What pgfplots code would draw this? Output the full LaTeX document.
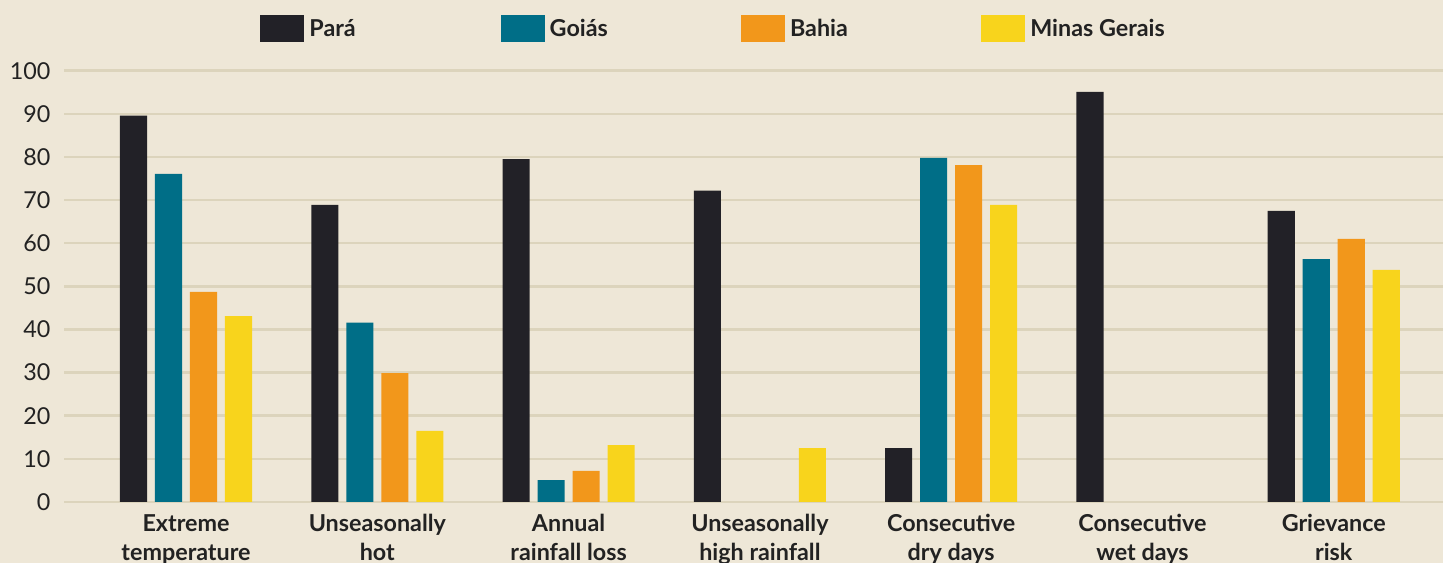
\documentclass[border=0pt]{standalone}
\usepackage{fontspec}
\setmainfont{Lato}
\usepackage{pgfplots}
\pgfplotsset{compat=1.18}
\definecolor{bg}{HTML}{EEE7D7}
\definecolor{gridc}{HTML}{DCD4BC}
\definecolor{cpara}{HTML}{222127}
\definecolor{cgoias}{HTML}{006E87}
\definecolor{cbahia}{HTML}{F2971B}
\definecolor{cminas}{HTML}{F8D41C}
\definecolor{txt}{HTML}{222222}
\pgfplotsset{sq legend/.style={legend image code/.code={\fill[##1] (0bp,-13.35bp) rectangle (44bp,13.35bp);}}}
\begin{document}
\begin{tikzpicture}
\fill[bg] (0,0) rectangle (1443bp,563bp);
\useasboundingbox (0,0) rectangle (1443bp,563bp);
\begin{axis}[
 at={(64bp,61bp)}, anchor=south west,
 scale only axis, width=1379bp, height=431.3bp,
 xmin=-0.638, xmax=6.571, ymin=0, ymax=100,
 clip=false,
 axis line style={draw=none},
 major tick length=0pt,
 ytick={0,10,...,100},
 ymajorgrids, grid style={gridc, line width=2.5bp},
 xtick={0,...,6},
 xticklabels={{Extreme\\temperature},{Unseasonally\\hot},{Annual\\rainfall loss},{Unseasonally\\high rainfall},{Consecutive\\dry days},{Consecutive\\wet days},{Grievance\\risk}},
 xticklabel style={font=\fontsize{23.4}{29.4}\selectfont\bfseries, text=txt, align=center, anchor=north, inner sep=0pt, yshift=-12bp},
 yticklabel style={font=\fontsize{23.4}{28}\selectfont, text=txt, anchor=east, inner sep=0pt, xshift=-13.3bp},
 /pgf/number format/assume math mode=true,
 ybar=7.9bp, bar width=27.1bp,
 legend columns=4,
 legend style={at={(axis description cs:0.1423,1.0983)}, anchor=west, draw=none, fill=none, inner sep=0pt,
   font=\fontsize{23.4}{28}\selectfont\bfseries, text=txt,
   nodes={inner sep=0pt},
   /tikz/every odd column/.append style={column sep=5bp}},
]
\addplot[fill=cpara, draw=none, sq legend] coordinates {(0,89.6) (1,68.9) (2,79.5) (3,72.2) (4,12.5) (5,95.1) (6,67.5)};
\addlegendentry{\makebox[191.3bp][l]{Pará}}
\addplot[fill=cgoias, draw=none, sq legend] coordinates {(0,76.1) (1,41.6) (2,5.1) (4,79.8) (6,56.3)};
\addlegendentry{\makebox[191.3bp][l]{Goiás}}
\addplot[fill=cbahia, draw=none, sq legend] coordinates {(0,48.7) (1,29.9) (2,7.2) (4,78.1) (6,61.0)};
\addlegendentry{\makebox[191.3bp][l]{Bahia}}
\addplot[fill=cminas, draw=none, sq legend] coordinates {(0,43.1) (1,16.5) (2,13.2) (3,12.5) (4,68.9) (6,53.8)};
\addlegendentry{Minas Gerais}
\end{axis}
\end{tikzpicture}
\end{document}
